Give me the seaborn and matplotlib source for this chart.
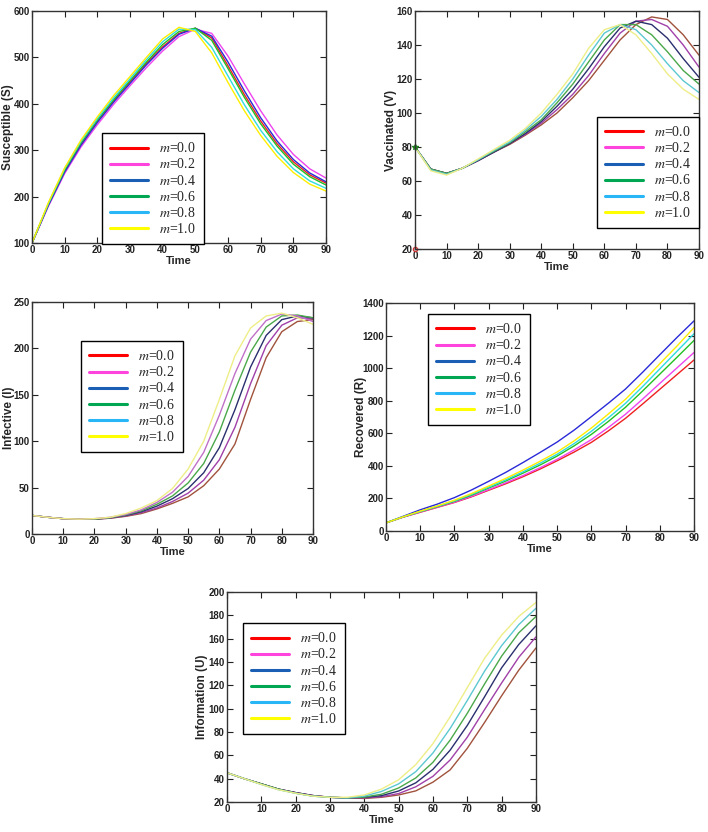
import matplotlib
matplotlib.use('Agg')
import matplotlib.pyplot as plt
from matplotlib.lines import Line2D
from matplotlib.font_manager import FontProperties
import seaborn as sns

time = [0, 5, 10, 15, 20, 25, 30, 35, 40, 45, 50, 55, 60, 65, 70, 75, 80, 85, 90]
m_values = ['0.0', '0.2', '0.4', '0.6', '0.8', '1.0']

# Susceptible (S)
S_00 = [100, 182, 255, 313, 362, 406, 447, 487, 523, 552, 563, 542, 482, 420, 363, 314, 275, 247, 229]
S_02 = [100, 179, 250, 307, 355, 399, 439, 478, 514, 545, 561, 552, 503, 443, 385, 333, 291, 260, 240]
S_04 = [100, 181, 253, 311, 360, 404, 444, 484, 520, 550, 563, 546, 490, 428, 370, 320, 280, 251, 232]
S_06 = [100, 184, 257, 316, 365, 409, 450, 490, 528, 556, 563, 537, 476, 414, 357, 309, 270, 243, 225]
S_08 = [100, 185, 260, 319, 368, 413, 454, 495, 534, 561, 560, 522, 460, 398, 343, 297, 260, 234, 218]
S_10 = [100, 187, 262, 322, 372, 418, 459, 500, 540, 565, 556, 510, 446, 385, 332, 287, 252, 227, 212]

# Vaccinated (V)
V_00 = [80, 67, 64.5, 67.5, 72, 77, 81.5, 87, 93, 100, 109, 119, 131, 143, 152, 156.5, 155, 146, 134]
V_02 = [80, 67, 64.5, 67.5, 72, 77, 82, 87.5, 94, 102, 111, 122, 135, 147, 154, 155, 151, 140, 127]
V_04 = [80, 67, 64.5, 67.5, 72, 77, 82, 88, 95, 104, 114, 126, 139, 150, 154, 152, 144, 132, 121]
V_06 = [80, 67, 64.5, 67.5, 72.5, 77.5, 82.5, 89, 96, 106, 117, 130, 143, 152, 152, 146, 136, 125, 117]
V_08 = [80, 66.5, 64, 67.5, 72.5, 78, 83, 90, 98, 108, 120, 134, 147, 152, 149, 140, 129, 119, 112]
V_10 = [80, 66, 63.5, 67.5, 73, 78.5, 84, 91, 100, 111, 123, 138, 149, 152, 146, 135, 123, 114, 108]

# Infective (I)
I_00 = [20, 18, 16.5, 16, 16, 17, 19, 22, 27, 33, 40, 52, 70, 97, 145, 190, 218, 229, 231]
I_02 = [20, 18, 16.5, 16, 16, 17, 19.5, 23, 28, 35, 44, 58, 80, 115, 162, 203, 225, 233, 232]
I_04 = [20, 18, 16.5, 16, 16, 17.5, 20, 24, 30, 38, 49, 66, 93, 134, 180, 214, 231, 235, 233]
I_06 = [20, 18, 16.5, 16, 16, 17.5, 20.5, 25, 32, 41, 55, 76, 110, 155, 196, 223, 235, 236, 233]
I_08 = [20, 18, 16.5, 16, 16.5, 18, 21, 26, 34, 45, 62, 88, 128, 173, 210, 230, 237, 235, 229]
I_10 = [20, 18, 16.5, 16, 16.5, 18, 22, 28, 36, 49, 70, 100, 145, 192, 222, 235, 238, 233, 226]

# Recovered (R)
R_00 = [50, 85, 115, 145, 175, 210, 250, 290, 333, 380, 431, 485, 544, 615, 692, 780, 870, 960, 1050]
R_02 = [50, 85, 116, 147, 177, 213, 254, 296, 340, 388, 440, 498, 561, 636, 717, 810, 906, 1001, 1096]
R_04 = [50, 90, 130, 165, 205, 252, 305, 360, 420, 482, 546, 620, 702, 785, 872, 975, 1082, 1188, 1290]
R_06 = [50, 86, 119, 150, 182, 220, 264, 307, 355, 405, 460, 523, 593, 673, 760, 860, 963, 1066, 1170]
R_08 = [50, 87, 120, 152, 185, 225, 269, 314, 363, 416, 471, 537, 612, 695, 784, 887, 995, 1103, 1211]
R_10 = [50, 87, 122, 154, 189, 230, 276, 323, 374, 428, 485, 554, 632, 719, 809, 915, 1027, 1135, 1249]

# Information (U)
U_00 = [45, 40, 35.5, 31, 28, 25.5, 24, 23.5, 23, 24, 26, 29.5, 37, 47.5, 66, 88, 111, 133, 152]
U_02 = [45, 40, 35.5, 31, 28, 25.5, 24, 23.5, 23.5, 24.5, 27.2, 33, 42, 56, 75.5, 99, 122, 144, 161.5]
U_04 = [45, 40, 35.5, 31, 28, 25.5, 24, 23.5, 24, 25.4, 29.4, 36.4, 48, 64.4, 85.6, 110, 135, 155, 171]
U_06 = [45, 40, 35.5, 31, 27.5, 25, 24, 23.5, 24.2, 26.6, 32, 40.6, 54, 73, 96, 121, 145, 165, 179]
U_08 = [45, 40, 35, 30.5, 27.5, 25, 24, 23.5, 25, 29, 35.5, 46, 62, 83, 107, 132, 154, 172, 186]
U_10 = [45, 40, 35, 30.5, 27.5, 25, 24, 24, 26, 31, 39, 52, 70, 93, 118, 143, 163, 179, 191]

legend_colors = ['#ff0000', '#ff44dd', '#1a5fb4', '#00a651', '#29b6f6', '#ffff00']
bright = ['#ee2020', '#ee44ee', '#2a2ad8', '#22c022', '#30dcdc', '#ffee00']
tinted = ['#a0523c', '#a040a8', '#2a2f6e', '#4aa84a', '#5cc8d0', '#eeee88']
tinted_i = ['#a0523c', '#a040a8', '#2a2f6e', '#4aa84a', '#c070c8', '#eeee88']

sns.set_theme(style='ticks')
plt.rcParams['font.family'] = ['Liberation Sans', 'DejaVu Sans']
plt.rcParams['mathtext.fontset'] = 'stix'
plt.rcParams['xtick.direction'] = 'in'
plt.rcParams['ytick.direction'] = 'in'
plt.rcParams['xtick.top'] = True
plt.rcParams['ytick.right'] = True

tick_font = FontProperties(family=['Liberation Sans', 'DejaVu Sans'], weight='bold', size=7)
label_font = FontProperties(family=['Liberation Sans', 'DejaVu Sans'], weight='bold', size=8.5)
time_font = FontProperties(family=['Liberation Sans', 'DejaVu Sans'], weight='bold', size=8)
legend_font = FontProperties(family='Liberation Serif', size=10)

panels = [
    dict(pos=[0.0452, 0.7079, 0.4153, 0.2788], series=[S_00, S_02, S_04, S_06, S_08, S_10],
         colors=bright, ylabel='Susceptible (S)', ylim=(100, 600), yticks=range(100, 601, 100),
         leg=(0.238, 0.474)),
    dict(pos=[0.5862, 0.7007, 0.4011, 0.2861], series=[V_00, V_02, V_04, V_06, V_08, V_10],
         colors=tinted, ylabel='Vaccinated (V)', ylim=(20, 160), yticks=range(20, 161, 20),
         leg=(0.641, 0.555)),
    dict(pos=[0.0452, 0.3582, 0.3969, 0.2788], series=[I_00, I_02, I_04, I_06, I_08, I_10],
         colors=tinted_i, ylabel='Infective (I)', ylim=(0, 250), yticks=range(0, 251, 50),
         leg=(0.174, 0.832)),
    dict(pos=[0.5452, 0.3618, 0.4350, 0.2740], series=[R_00, R_02, R_04, R_06, R_08, R_10],
         colors=bright, ylabel='Recovered (R)', ylim=(0, 1400), yticks=range(0, 1401, 200),
         leg=(0.136, 0.952)),
    dict(pos=[0.3206, 0.0361, 0.4364, 0.2524], series=[U_00, U_02, U_04, U_06, U_08, U_10],
         colors=tinted, ylabel='Information (U)', ylim=(20, 200), yticks=range(20, 201, 20),
         leg=(0.052, 0.852)),
]

fig = plt.figure(figsize=(7.08, 8.32), dpi=100)

for p in panels:
    ax = fig.add_axes(p['pos'])
    for vals, c in zip(p['series'], p['colors']):
        sns.lineplot(x=time, y=vals, ax=ax, color=c, linewidth=1.0, legend=False)
    ax.set_xlim(0, 90)
    ax.set_ylim(*p['ylim'])
    ax.set_xticks(range(0, 91, 10))
    ax.set_yticks(list(p['yticks']))
    for lab in ax.get_xticklabels() + ax.get_yticklabels():
        lab.set_fontproperties(tick_font)
    ax.tick_params(length=4, width=0.8, colors='#222222', pad=1.5)
    for sp in ax.spines.values():
        sp.set_color('#333333')
        sp.set_linewidth(1.0)
    ax.set_xlabel('Time', fontproperties=time_font, labelpad=1)
    ax.set_ylabel(p['ylabel'], fontproperties=label_font)
    ax.yaxis.set_label_coords(-0.062, 0.5)
    if p['ylabel'] == 'Vaccinated (V)':
        ax.plot([0], [80], marker='*', color='#208020', markersize=4, clip_on=False)
        ax.plot([0], [20], marker='o', color='#d03030', markersize=3, mfc='none', clip_on=False)
    handles = [Line2D([0], [0], color=c, linewidth=2.2) for c in legend_colors]
    labels = ['$m$=' + m for m in m_values]
    leg = ax.legend(handles, labels, loc='upper left', bbox_to_anchor=p['leg'], prop=legend_font,
                    frameon=True, fancybox=False, framealpha=1, edgecolor='black',
                    borderaxespad=0, handlelength=2.7, handletextpad=0.8, labelspacing=0.15,
                    borderpad=0.6)
    leg.get_frame().set_linewidth(1.0)

fig.savefig('out.png', dpi=100)
